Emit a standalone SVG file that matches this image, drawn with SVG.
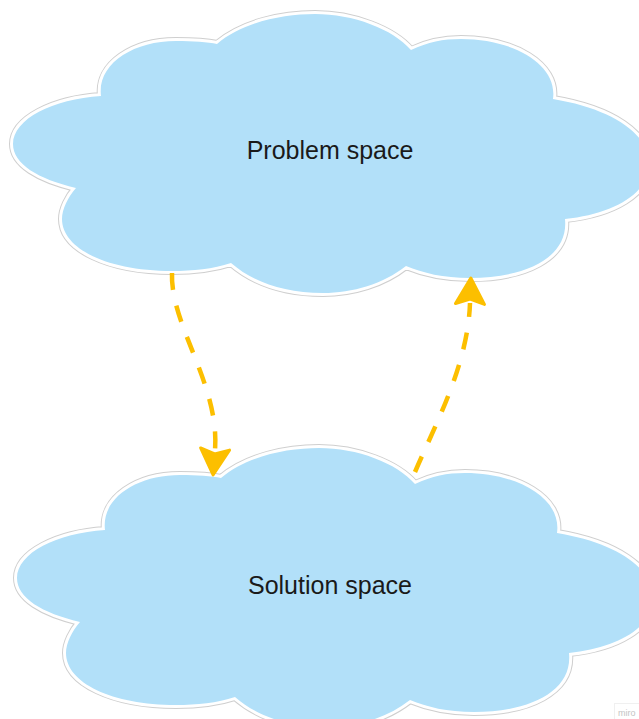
<svg xmlns="http://www.w3.org/2000/svg" xmlns:xlink="http://www.w3.org/1999/xlink" width="639" height="719" viewBox="0 0 639 719">
  <style>
    .cloud-outline { fill: none; stroke: #cfcfcf; stroke-width: 8; stroke-linejoin: round; }
    .cloud-band { fill: none; stroke: #ffffff; stroke-width: 6; stroke-linejoin: round; }
    .cloud-fill { fill: #b2e0f9; stroke: none; }
    .label { font-family: "Liberation Sans", Arial, sans-serif; font-size: 25px; fill: #1a1a1a; text-anchor: middle; }
    .flow { fill: none; stroke: #fcbf00; stroke-width: 4.5; stroke-dasharray: 17 16; }
    .head { fill: #fcbf00; stroke: #fcbf00; stroke-width: 3; stroke-linejoin: round; }
    .brand { font-family: "Liberation Sans", Arial, sans-serif; font-size: 9px; fill: #c4c4c4; }
  </style>
  <defs>
    <!-- eight-lobed cloud outline, 636 x 279 box -->
    <path id="cloudPath" d="M88,82 C84,50 120,27 163,27 C180,27 195,28 204,30 C230,8 270,0 302,0 C340,0 380,15 398,36 C415,28 430,25 448,25 C500,25 545,50 540,85 C600,95 636,120 636,150 C636,180 600,200 552,205 C556,245 510,264 457,264 C430,264 410,259 393,252 C370,270 340,279 310,279 C270,279 240,268 218,249 C200,255 180,257 159,257 C95,257 49,235 49,205 C49,195 55,183 63,174 C25,165 0,150 0,130 C0,105 40,85 88,82 Z"/>
    <g id="cloud">
      <use xlink:href="#cloudPath" href="#cloudPath" class="cloud-outline"/>
      <use xlink:href="#cloudPath" href="#cloudPath" class="cloud-band"/>
      <use xlink:href="#cloudPath" href="#cloudPath" class="cloud-fill"/>
    </g>
    <marker id="arrow" markerUnits="userSpaceOnUse" viewBox="-4 -19 34 38" markerWidth="34" markerHeight="38" refX="0" refY="0" orient="auto">
      <path class="head" d="M-1,-14.5 L25,0 L-1,14.5 L4,0 Z"/>
    </marker>
  </defs>

  <g id="problem-space">
    <use xlink:href="#cloud" href="#cloud" transform="translate(13,14)"/>
    <text class="label" x="330" y="159">Problem space</text>
  </g>

  <g id="solution-space">
    <use xlink:href="#cloud" href="#cloud" transform="translate(17,448)"/>
    <text class="label" x="330" y="594">Solution space</text>
  </g>

  <g id="connectors">
    <path class="flow" d="M172,273 C170,325 220,385 215,450" marker-end="url(#arrow)"/>
    <path class="flow" d="M415,472 C435,425 468,365 470,303" marker-end="url(#arrow)"/>
  </g>

  <g id="brand">
    <rect x="614.5" y="703.5" width="30" height="20" fill="none" stroke="#f0f0f0" stroke-width="1"/>
    <text class="brand" x="618" y="716">miro</text>
  </g>
</svg>
